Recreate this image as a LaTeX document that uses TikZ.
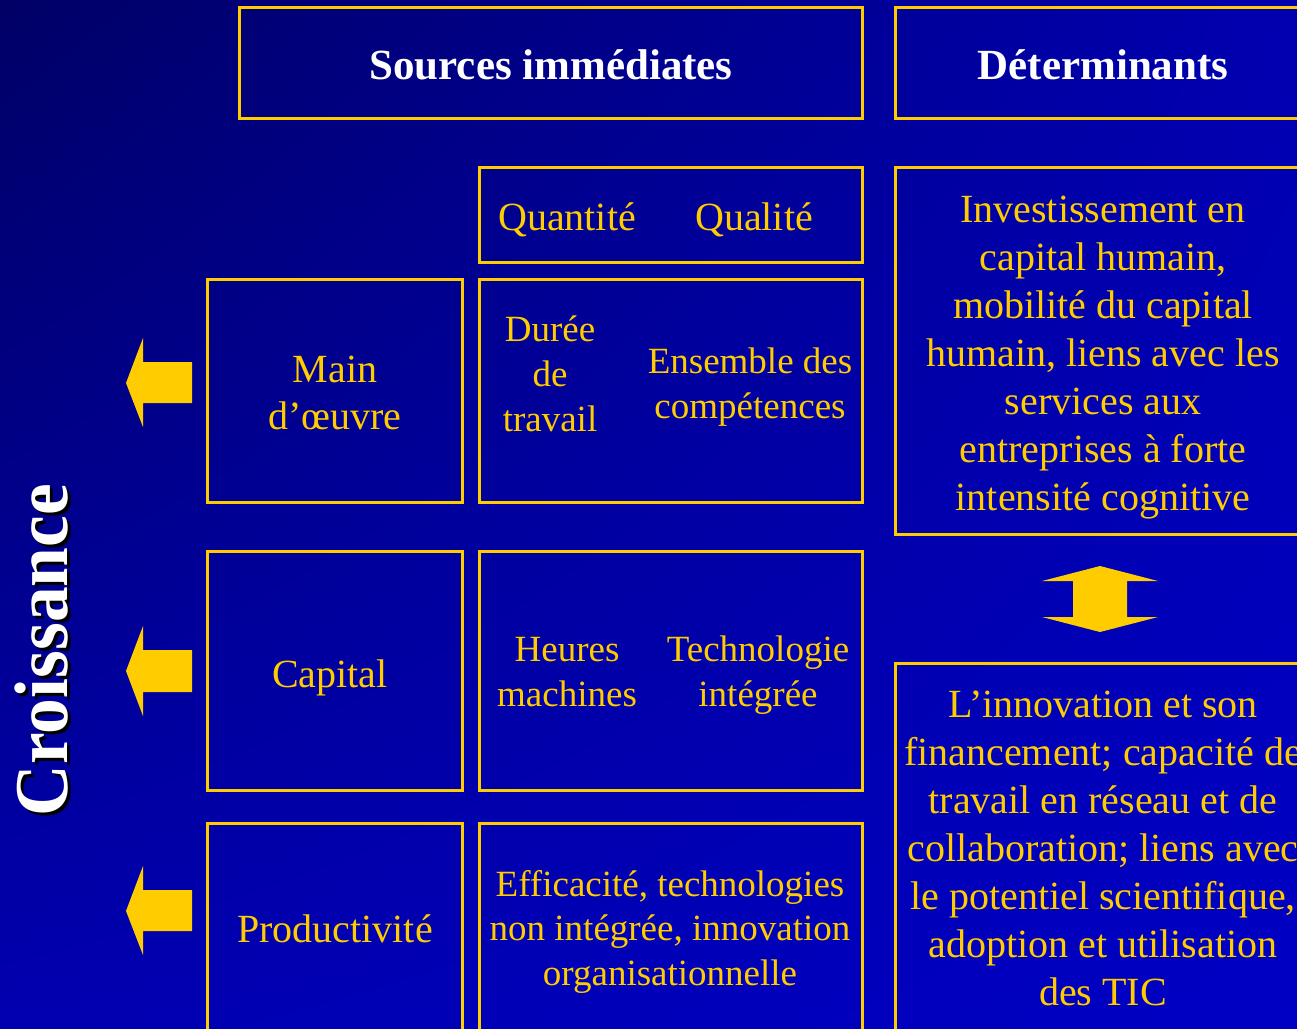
\documentclass[tikz,border=0pt]{standalone}
\usepackage{fontspec}
\setmainfont{Liberation Serif}
\usetikzlibrary{shadings}
\definecolor{gold}{HTML}{FFCC00}
\definecolor{bgTL}{HTML}{000066}
\definecolor{bgTR}{HTML}{0000B0}
\definecolor{bgBL}{HTML}{0000B0}
\definecolor{bgBR}{HTML}{0000C4}
\begin{document}
\begin{tikzpicture}[x=1pt,y=-1pt,
  frame/.style={draw=gold, line width=3pt, inner sep=0pt, outer sep=0pt, anchor=north west},
  ytext/.style={text=gold, font=\fontsize{40}{48}\selectfont, align=center, anchor=base, inner sep=0pt},
  ysmall/.style={ytext, font=\fontsize{37}{45}\selectfont},
  wbold/.style={text=white, font=\fontsize{43}{48}\selectfont\bfseries, anchor=base, inner sep=0pt},
  blockarrow/.style={fill=gold}]
\useasboundingbox (0,0) rectangle (1297,1028);
\clip (0,0) rectangle (1297,1028);
\shade[upper left=bgTL, upper right=bgTR, lower left=bgBL, lower right=bgBR] (0,0) rectangle (1297,1028);

% boxes
\node[frame, minimum width=623pt, minimum height=111pt] (srcbox) at (239.5,7.5) {};
\node[frame, minimum width=415pt, minimum height=111pt] (detbox) at (895.5,7.5) {};
\node[frame, minimum width=383pt, minimum height=95pt] (qqbox) at (479.5,167.5) {};
\node[frame, minimum width=255pt, minimum height=223pt] (mobox) at (207.5,279.5) {};
\node[frame, minimum width=383pt, minimum height=223pt] (moqbox) at (479.5,279.5) {};
\node[frame, minimum width=255pt, minimum height=239pt] (capbox) at (207.5,551.5) {};
\node[frame, minimum width=383pt, minimum height=239pt] (capqbox) at (479.5,551.5) {};
\node[frame, minimum width=255pt, minimum height=230pt] (prodbox) at (207.5,823.5) {};
\node[frame, minimum width=383pt, minimum height=230pt] (prodqbox) at (479.5,823.5) {};
\node[frame, minimum width=415pt, minimum height=367pt] (invbox) at (895.5,167.5) {};
\node[frame, minimum width=415pt, minimum height=390pt] (innbox) at (895.5,663.5) {};

% headings
\node[wbold] (tSrc) at (551,79) {Sources immédiates};
\node[wbold] (tDet) at (1103,79) {Déterminants};

% texts (anchor = baseline of last line)
\node[ytext] (tQuant) at (567,230) {Quantité};
\node[ytext] (tQual) at (754,230) {Qualité};
\node[ytext, font=\fontsize{40}{47}\selectfont] (tMain) at (335,429) {Main\\d’œuvre};
\node[ysmall] (tDuree) at (550,431) {Durée\\de\\travail};
\node[ysmall] (tEns) at (750,418) {Ensemble des\\compétences};
\node[ytext] (tCap) at (330,687) {Capital};
\node[ysmall] (tHeures) at (567,706) {Heures\\machines};
\node[ysmall] (tTech) at (758,706) {Technologie\\intégrée};
\node[ytext] (tProd) at (335,942) {Productivité};
\node[ysmall, font=\fontsize{37}{44.5}\selectfont] (tEff) at (670,985) {Efficacité, technologies\\non intégrée, innovation\\organisationnelle};
\node[ytext] (tInv) at (1103,510) {Investissement en\\capital humain,\\mobilité du capital\\humain, liens avec les\\services aux\\entreprises à forte\\intensité cognitive};
\node[ytext] (tInn) at (1103,1005) {L’innovation et son\\financement; capacité de\\travail en réseau et de\\collaboration; liens avec\\le potentiel scientifique,\\adoption et utilisation\\des TIC};

% Croissance with shadow
\node[text=black, font=\fontsize{76}{80}\selectfont\bfseries, rotate=90, anchor=base, inner sep=0pt] (tCroisShadow) at (70,653) {\scalebox{0.94}[1]{Croissance}};
\node[text=white, font=\fontsize{76}{80}\selectfont\bfseries, rotate=90, anchor=base, inner sep=0pt] (tCrois) at (67,650) {\scalebox{0.94}[1]{Croissance}};

% left block arrows
\fill[blockarrow] (126,383) -- (143,338) -- (143,362) -- (192,362) -- (192,403) -- (143,403) -- (143,427) -- cycle;
\fill[blockarrow] (126,671) -- (143,626) -- (143,650) -- (192,650) -- (192,692) -- (143,692) -- (143,716) -- cycle;
\fill[blockarrow] (126,911) -- (143,866) -- (143,890) -- (192,890) -- (192,931) -- (143,931) -- (143,955) -- cycle;

% double arrow
\fill[blockarrow] (1100,566) -- (1158,581) -- (1127,581) -- (1127,617) -- (1158,617) -- (1100,632) -- (1042,617) -- (1073,617) -- (1073,581) -- (1042,581) -- cycle;
\end{tikzpicture}
\end{document}
